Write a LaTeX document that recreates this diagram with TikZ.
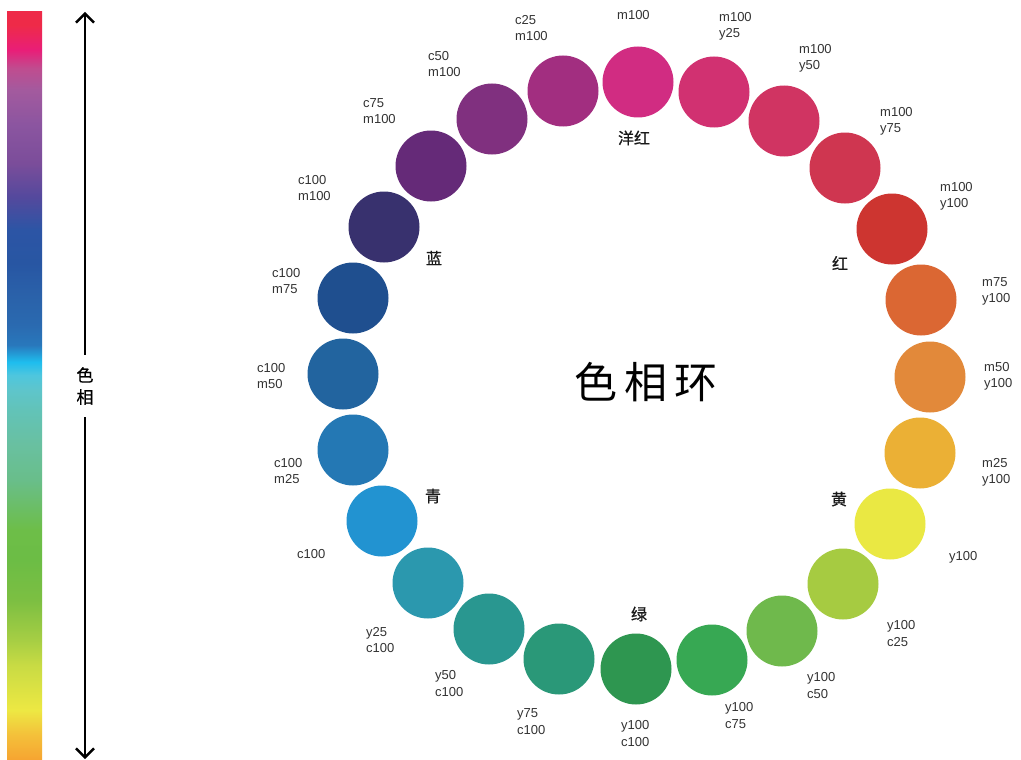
\documentclass[tikz,border=0pt]{standalone}
\usepackage{fontspec}
\setmainfont{Liberation Sans}
\newfontfamily\cjk{Noto Sans CJK SC}
\newfontfamily\cjkm[FakeBold=0.8]{Noto Sans CJK SC}
\usetikzlibrary{arrows.meta}
% hue circle colours
\definecolor{k01}{HTML}{D12C82}
\definecolor{k02}{HTML}{D13171}
\definecolor{k03}{HTML}{D03462}
\definecolor{k04}{HTML}{CF3650}
\definecolor{k05}{HTML}{CD3530}
\definecolor{k06}{HTML}{DB6733}
\definecolor{k07}{HTML}{E2893A}
\definecolor{k08}{HTML}{EBB035}
\definecolor{k09}{HTML}{EAE843}
\definecolor{k10}{HTML}{A6CB41}
\definecolor{k11}{HTML}{6FB94C}
\definecolor{k12}{HTML}{37A853}
\definecolor{k13}{HTML}{2E9650}
\definecolor{k14}{HTML}{2A9878}
\definecolor{k15}{HTML}{299790}
\definecolor{k16}{HTML}{2B98AE}
\definecolor{k17}{HTML}{2293D1}
\definecolor{k18}{HTML}{2478B4}
\definecolor{k19}{HTML}{22649F}
\definecolor{k20}{HTML}{1F4F8F}
\definecolor{k21}{HTML}{38316E}
\definecolor{k22}{HTML}{652A78}
\definecolor{k23}{HTML}{80307F}
\definecolor{k24}{HTML}{A22E80}
% gradient bar colours
\definecolor{g01}{HTML}{F6A431}
\definecolor{g02}{HTML}{F4C03A}
\definecolor{g03}{HTML}{EDE843}
\definecolor{g04}{HTML}{C8DB44}
\definecolor{g05}{HTML}{A6CE44}
\definecolor{g06}{HTML}{7CBF42}
\definecolor{g07}{HTML}{6CBD45}
\definecolor{g08}{HTML}{6DBE48}
\definecolor{g09}{HTML}{69BE8A}
\definecolor{g10}{HTML}{69C0A0}
\definecolor{g11}{HTML}{62C3B8}
\definecolor{g12}{HTML}{5EC5CB}
\definecolor{g13}{HTML}{4EC6DE}
\definecolor{g14}{HTML}{1EBDEE}
\definecolor{g15}{HTML}{2978BC}
\definecolor{g16}{HTML}{2A6AB0}
\definecolor{g17}{HTML}{2A62AA}
\definecolor{g18}{HTML}{2856A3}
\definecolor{g19}{HTML}{2C55A5}
\definecolor{g20}{HTML}{54499D}
\definecolor{g21}{HTML}{7B4D9A}
\definecolor{g22}{HTML}{8B55A0}
\definecolor{g23}{HTML}{A35A9E}
\definecolor{g24}{HTML}{C04C8F}
\definecolor{g25}{HTML}{E91E78}
\definecolor{g26}{HTML}{EE2A48}
\definecolor{lblgray}{HTML}{333333}
\pgfdeclareverticalshading{huebar}{100bp}{color(0bp)=(g01); color(25bp)=(g01);
 color(26.67bp)=(g02); color(28.34bp)=(g03); color(31.35bp)=(g04); color(33.02bp)=(g05);
 color(35.69bp)=(g06); color(38.37bp)=(g07); color(40.37bp)=(g08); color(43.72bp)=(g09);
 color(46.05bp)=(g10); color(48.39bp)=(g11); color(49.73bp)=(g12); color(50.73bp)=(g13);
 color(51.60bp)=(g14); color(52.74bp)=(g15); color(54.08bp)=(g16); color(55.95bp)=(g17);
 color(58.22bp)=(g18); color(60.43bp)=(g19); color(62.63bp)=(g20); color(64.90bp)=(g21);
 color(67.44bp)=(g22); color(69.78bp)=(g23); color(71.25bp)=(g24); color(72.46bp)=(g25);
 color(74.13bp)=(g26); color(75bp)=(g26); color(100bp)=(g26)}
\begin{document}
\begin{tikzpicture}[x=1pt,y=-1pt,
  hue/.style={circle, minimum size=71pt, inner sep=0pt, fill=#1},
  lbl/.style={font=\fontsize{13}{16.5}\selectfont, text=lblgray, align=left, anchor=west, inner sep=0pt},
  zh/.style={font=\cjkm\fontsize{16}{16}\selectfont, text=black!90, inner sep=0pt},
  huearrow/.style={line width=2.4pt, -{Straight Barb[length=9pt,width=18pt]}}]
\useasboundingbox (0,0) rectangle (1021,760);
\fill[white] (0,0) rectangle (1021,760);
% gradient bar
\shade[shading=huebar] (7,12) rectangle (42,760);
% axis arrow
\coordinate (atop) at (85,12);
\coordinate (abot) at (85,759);
\node[font=\cjkm\fontsize{17}{22}\selectfont, minimum height=62pt, inner sep=0pt, align=center] (huelbl) at (85,386) {色\\相};
\draw[huearrow] (huelbl.north) -- (atop);
\draw[huearrow] (huelbl.south) -- (abot);
% circles
\foreach \i/\x/\y in {01/638/82, 02/714/92, 03/784/121, 04/845/168, 05/892/229, 06/921/300,
  07/930/377, 08/920/453, 09/890/524, 10/843/584, 11/782/631, 12/712/660, 13/636/669,
  14/559/659, 15/489/629, 16/428/583, 17/382/521, 18/353/450, 19/343/374, 20/353/298,
  21/384/227, 22/431/166, 23/492/119, 24/563/91}
  {\node[hue=k\i] (h\i) at (\x,\y) {};}
% labels
\node[lbl] (t01) at (617,15) {m100};
\node[lbl] (t02) at (719,26.5) {m100\\y25};
\node[lbl] (t03) at (799,58.5) {m100\\y50};
\node[lbl] (t04) at (880,121.5) {m100\\y75};
\node[lbl] (t05) at (940,196.5) {m100\\y100};
\node[lbl] (t06) at (982,291.5) {m75\\y100};
\node[lbl] (t07) at (984,376.5) {m50\\y100};
\node[lbl] (t08) at (982,472.5) {m25\\y100};
\node[lbl] (t09) at (949,557) {y100};
\node[lbl] (t10) at (887,633.5) {y100\\c25};
\node[lbl] (t11) at (807,685.5) {y100\\c50};
\node[lbl] (t12) at (725,715.5) {y100\\c75};
\node[lbl] (t13) at (621,733.5) {y100\\c100};
\node[lbl] (t14) at (517,721.5) {y75\\c100};
\node[lbl] (t15) at (435,683.5) {y50\\c100};
\node[lbl] (t16) at (366,640) {y25\\c100};
\node[lbl] (t17) at (297,554) {c100};
\node[lbl] (t18) at (274,471) {c100\\m25};
\node[lbl] (t19) at (257,376) {c100\\m50};
\node[lbl] (t20) at (272,281) {c100\\m75};
\node[lbl] (t21) at (298,188) {c100\\m100};
\node[lbl] (t22) at (363,111) {c75\\m100};
\node[lbl] (t23) at (428,64) {c50\\m100};
\node[lbl] (t24) at (515,28) {c25\\m100};
% hue names
\node[zh] (nmag) at (634,138) {洋红};
\node[zh] (nred) at (840,263) {红};
\node[zh] (nblu) at (434,258) {蓝};
\node[zh] (ncya) at (433,496) {青};
\node[zh] (ngrn) at (639,614) {绿};
\node[zh] (nyel) at (839,499) {黄};
% title
\node[font=\cjk\fontsize{43}{43}\selectfont, inner sep=0pt] (title) at (646,382) {色\hspace{7pt}相\hspace{7pt}环};
\end{tikzpicture}
\end{document}
